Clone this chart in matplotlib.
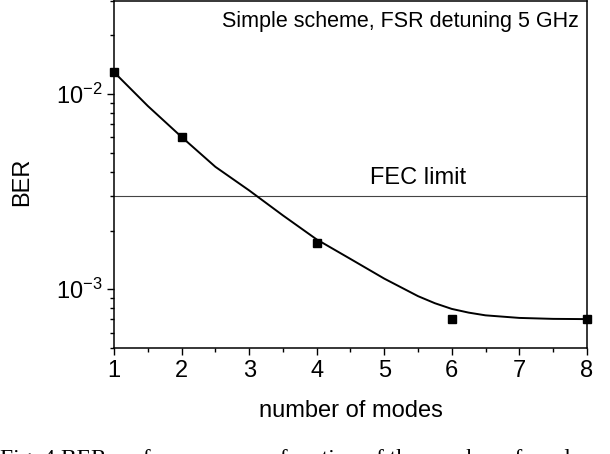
import matplotlib
matplotlib.use('Agg')
import matplotlib.pyplot as plt
import numpy as np

plt.rcParams['font.family'] = ['Liberation Sans', 'DejaVu Sans']
plt.rcParams['mathtext.fontset'] = 'custom'
plt.rcParams['mathtext.rm'] = 'Liberation Sans'
plt.rcParams['mathtext.it'] = 'Liberation Sans'

# measured points
modes = [1, 2, 4, 6, 8]
ber = [1.30e-2, 6.05e-3, 1.72e-3, 7.0e-4, 7.0e-4]

# fitted curve
fit_x = [1.0, 1.5, 2.0, 2.5, 3.0, 3.5, 4.0, 4.5, 5.0, 5.5, 5.75, 6.0, 6.25,
         6.5, 7.0, 7.5, 8.0]
fit_y = [1.295e-2, 8.69e-3, 6.03e-3, 4.24e-3, 3.21e-3, 2.39e-3, 1.80e-3, 1.43e-3,
         1.134e-3, 9.22e-4, 8.48e-4, 7.93e-4, 7.59e-4, 7.35e-4, 7.13e-4, 7.05e-4,
         7.03e-4]

fec = 3e-3

fig = plt.figure(figsize=(6.1, 4.54), dpi=100)
ax = fig.add_axes([0.187, 0.2335, 0.775, 0.7643])

ax.axhline(fec, color='#444444', lw=0.8)
ax.plot(fit_x, fit_y, color='black', lw=1.4)
ax.plot(modes, ber, 's', color='black', ms=5.5, clip_on=False)

ax.set_yscale('log')
ax.set_xlim(1, 8)
ax.set_ylim(5e-4, 3e-2)
ax.set_xticks([1, 2, 3, 4, 5, 6, 7, 8])
ax.set_xticks(np.arange(1.5, 8, 1.0), minor=True)
ax.set_yticks([1e-3, 1e-2])

ax.tick_params(which='major', direction='out', length=5, width=1, labelsize=17)
ax.tick_params(which='minor', direction='out', length=3, width=1)
ax.tick_params(axis='y', which='minor', labelleft=False)
for s in ax.spines.values():
    s.set_linewidth(1.1)

ax.set_xlabel('number of modes', fontsize=17, labelpad=13)
ax.set_ylabel('BER', fontsize=17)
ax.yaxis.set_label_coords(-0.172, 0.48)

ax.text(0.983, 0.94, 'Simple scheme, FSR detuning 5 GHz', transform=ax.transAxes,
        ha='right', va='center', fontsize=15.5)
ax.text(5.5, fec * 1.24, 'FEC limit', ha='center', va='center', fontsize=17)

fig.text(0.0, 0.01, 'Fig. 4 BER performance as a function of the number of modes',
         ha='left', va='top', fontsize=17, family='Liberation Serif')

fig.savefig('out.png', dpi=100)
